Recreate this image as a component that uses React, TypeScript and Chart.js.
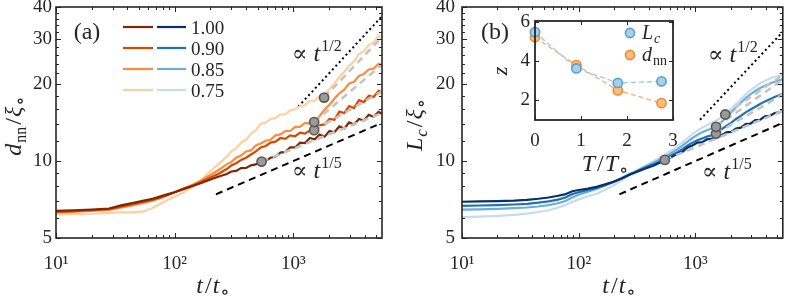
import React, { useEffect, useRef } from "react";
import { Chart, registerables } from "chart.js";

Chart.register(...registerables);

// ---------------- data ----------------
const times = [10, 14, 20, 28, 36, 45, 55, 65, 76, 88, 100, 120, 142, 168, 198, 233, 275,
  300, 330, 363, 400, 440, 484, 532, 585, 644, 708, 779, 857, 943, 1037, 1141, 1255, 1380,
  1518, 1670, 1837, 2021, 2223, 2445, 2690, 2959, 3255, 3580, 3938, 4332, 4765, 5242, 5600];

const seriesLabels = ["1.00", "0.90", "0.85", "0.75"];

// panel (a): d_nn / xi
const dnn100 = [6.38, 6.42, 6.46, 6.52, 6.72, 6.86, 7.0, 7.12, 7.27, 7.42, 7.55, 7.78, 7.98, 8.2, 8.45, 8.68, 8.9,
  9.1, 9.15, 9.38, 9.4, 9.62, 9.7, 9.92, 10.0, 10.3, 10.4, 10.78, 10.85, 11.3, 11.3, 11.8, 11.75, 12.3, 12.15, 12.7,
  12.45, 13.1, 12.95, 13.65, 13.4, 14.15, 13.9, 14.6, 14.4, 15.15, 14.9, 15.55, 15.3];
const dnn090 = [6.33, 6.37, 6.42, 6.48, 6.65, 6.8, 6.93, 7.05, 7.2, 7.38, 7.55, 7.8, 8.02, 8.3, 8.6, 8.9, 9.3,
  9.6, 9.8, 10.1, 10.3, 10.6, 10.9, 11.3, 11.45, 11.8, 11.9, 12.3, 12.2, 12.6, 12.5, 12.9, 12.8, 13.15, 13.2, 13.8,
  13.9, 14.6, 14.5, 15.6, 15.4, 16.4, 16.1, 17.3, 17.0, 18.0, 17.8, 18.8, 18.6];
const dnn085 = [6.3, 6.33, 6.38, 6.44, 6.58, 6.72, 6.86, 7.0, 7.15, 7.35, 7.55, 7.82, 8.08, 8.4, 8.8, 9.2, 9.7,
  9.9, 10.3, 10.5, 10.9, 11.0, 11.5, 11.7, 12.0, 12.1, 12.6, 12.7, 13.1, 13.1, 13.6, 13.6, 14.1, 14.0, 14.3, 15.0,
  15.9, 16.6, 17.5, 18.4, 19.0, 20.1, 20.4, 21.5, 21.9, 22.8, 23.0, 24.0, 23.7];
const dnn075 = [6.2, 6.2, 6.22, 6.27, 6.3, 6.3, 6.35, 6.55, 6.8, 7.05, 7.25, 7.55, 7.95, 8.45, 9.1, 9.7, 10.4,
  10.9, 11.2, 11.8, 12.1, 12.8, 13.2, 14.0, 14.1, 14.6, 14.7, 15.2, 15.2, 15.8, 15.9, 16.4, 16.5, 17.2, 17.2, 17.9,
  18.2, 19.1, 20.1, 21.3, 22.3, 23.6, 24.5, 26.2, 26.9, 28.4, 29.0, 30.9, 30.4];

// panel (b): L_c / xi
const lc100 = [6.93, 6.95, 6.97, 7.0, 7.05, 7.12, 7.2, 7.3, 7.4, 7.62, 7.7, 7.8, 7.92, 8.1, 8.3, 8.55, 8.85,
  9.0, 9.15, 9.3, 9.45, 9.6, 9.8, 10.0, 10.2, 10.45, 10.7, 10.9, 11.3, 11.5, 11.8, 11.85, 12.15, 12.2, 12.5, 12.6,
  12.95, 13.0, 13.4, 13.5, 13.95, 14.0, 14.45, 14.5, 14.95, 15.0, 15.4, 15.5, 15.75];
const lc090 = [6.68, 6.7, 6.72, 6.76, 6.8, 6.87, 6.95, 7.05, 7.18, 7.42, 7.55, 7.7, 7.85, 8.05, 8.28, 8.55, 8.88,
  9.0, 9.2, 9.38, 9.55, 9.72, 9.92, 10.12, 10.35, 10.6, 10.85, 11.15, 11.5, 11.8, 12.05, 12.25, 12.45, 12.6, 12.85, 13.3,
  13.7, 14.1, 14.6, 15.0, 15.5, 15.9, 16.3, 16.7, 17.1, 17.45, 17.8, 18.1, 18.25];
const lc085 = [6.45, 6.47, 6.5, 6.54, 6.58, 6.64, 6.72, 6.82, 6.96, 7.2, 7.38, 7.58, 7.78, 8.02, 8.28, 8.58, 8.92,
  9.05, 9.25, 9.45, 9.65, 9.85, 10.08, 10.3, 10.55, 10.85, 11.15, 11.5, 11.9, 12.3, 12.65, 12.95, 13.2, 13.4, 13.65, 14.2,
  14.8, 15.5, 16.2, 16.9, 17.6, 18.2, 18.8, 19.3, 19.7, 20.1, 20.4, 20.7, 20.9];
const lc075 = [6.03, 6.06, 6.1, 6.16, 6.23, 6.32, 6.42, 6.55, 6.72, 6.92, 7.08, 7.28, 7.45, 7.72, 8.02, 8.4, 8.85,
  9.08, 9.3, 9.52, 9.75, 10.0, 10.25, 10.5, 10.8, 11.1, 11.45, 11.85, 12.3, 12.75, 13.15, 13.5, 13.8, 14.1, 14.4, 14.8,
  15.25, 16.0, 16.7, 17.4, 18.2, 18.9, 19.5, 20.1, 20.6, 21.0, 21.35, 21.6, 21.8];

// power-law fits (start marker -> end of range)
const fitEndT = 5600;
const fitStartTA = [541, 1500, 1500, 1820];
const fitStartVA = [9.95, 13.2, 14.2, 17.7];
const fitEndVA = [15.4, 18.7, 23.8, 30.5];
const fitStartTB = [547, 1500, 1500, 1800];
const fitStartVB = [10.1, 12.8, 13.6, 15.2];
const fitEndVB = [15.7, 18.2, 20.8, 21.7];

// reference power laws
const slowRefT = [223, 5600];
const slowRefV = [7.41, 14.1];
const fastRefTA = [1100, 5600];
const fastRefVA = [16.3, 36.8];
const fastRefTB = [1094, 5600];
const fastRefVB = [14.5, 32.0];

// inset: exponent z vs T/T0
const insetT = [0, 0.9, 1.8, 2.75];
const zLc = [5.48, 3.63, 2.89, 2.97];
const zDnn = [5.22, 3.8, 2.51, 1.86];

// ticks
const xTickValues = [10, 100, 1000];
const xTickLabels = ["10¹", "10²", "10³"];
const xMinorTicks = [20, 30, 40, 50, 60, 70, 80, 90, 200, 300, 400, 500, 600, 700, 800, 900, 2000, 3000, 4000, 5000];
const yTickValues = [5, 10, 20, 30, 40];
const yTickLabels = ["5", "10", "20", "30", "40"];
const yMinorTicks = [6, 7, 8, 9, 12, 14, 16, 18, 22, 24, 26, 28, 32, 34, 36, 38];
const insetXTicks = [0, 1, 2, 3];
const insetYTicks = [2, 4, 6];

// ---------------- styling ----------------
const FONT = "'Liberation Serif', 'DejaVu Serif', serif";
const INK = "#262626";
const orangeColors = ["#7f2704", "#d94801", "#fd8d3c", "#fdd0a2"];
const blueColors = ["#08306b", "#2171b5", "#6baed6", "#c6dbef"];

type Seg = { t: string; s: number; i?: boolean; dy?: number; gap?: number };

function fontOf(sg: Seg) {
  return `${sg.i ? "italic " : ""}${sg.s}px ${FONT}`;
}

function drawRich(ctx: CanvasRenderingContext2D, x: number, y: number, segs: Seg[], align: "left" | "center" = "left", rot = 0) {
  ctx.save();
  ctx.translate(x, y);
  if (rot) ctx.rotate(rot);
  ctx.fillStyle = INK;
  ctx.textBaseline = "alphabetic";
  ctx.textAlign = "left";
  let total = 0;
  const ws = segs.map((sg) => {
    ctx.font = fontOf(sg);
    const w = ctx.measureText(sg.t).width + (sg.gap || 0);
    total += w;
    return w;
  });
  let cx = align === "center" ? -total / 2 : 0;
  segs.forEach((sg, i) => {
    ctx.font = fontOf(sg);
    ctx.fillText(sg.t, cx, sg.dy || 0);
    cx += ws[i];
  });
  ctx.restore();
}

function drawFrame(chart: any, xMajor: number[], xMinor: number[], yMajor: number[], yMinor: number[], lw: number, majLen: number, minLen: number) {
  const { ctx, chartArea: a, scales } = chart;
  ctx.save();
  ctx.strokeStyle = INK;
  ctx.lineWidth = 1;
  ctx.beginPath();
  const xs = [...xMajor.map((v) => [v, majLen]), ...xMinor.map((v) => [v, minLen])];
  xs.forEach(([v, len]) => {
    const px = Math.round(scales.x.getPixelForValue(v)) + 0.5;
    ctx.moveTo(px, a.bottom); ctx.lineTo(px, a.bottom - len);
    ctx.moveTo(px, a.top); ctx.lineTo(px, a.top + len);
  });
  const ys = [...yMajor.map((v) => [v, majLen]), ...yMinor.map((v) => [v, minLen])];
  ys.forEach(([v, len]) => {
    const py = Math.round(scales.y.getPixelForValue(v)) + 0.5;
    ctx.moveTo(a.left, py); ctx.lineTo(a.left + len, py);
    ctx.moveTo(a.right, py); ctx.lineTo(a.right - len, py);
  });
  ctx.stroke();
  ctx.lineWidth = lw;
  ctx.strokeRect(a.left, a.top, a.right - a.left, a.bottom - a.top);
  ctx.restore();
}

const propto = (sup: string): Seg[] => [
  { t: "∝", s: 23, gap: 6 },
  { t: "t", s: 24, i: true, gap: 1 },
  { t: sup, s: 16, dy: -10 },
];

const timeTitle = (sym: string): Seg[] => [
  { t: sym, s: 24, i: true, gap: 2 },
  { t: "/", s: 24, gap: 1 },
  { t: sym, s: 24, i: true, gap: 1 },
  { t: "∘", s: 19, dy: 5 },
];

function mainConfig(p: {
  curves: number[][]; colors: string[]; fitT: number[]; fitV: number[]; fitEndV: number[];
  fastT: number[]; fastV: number[]; yWidth: number; yPad: number; padRight: number;
  decor: (ctx: CanvasRenderingContext2D) => void;
}): any {
  const datasets: any[] = [];
  datasets.push({
    type: "scatter",
    data: p.fitT.map((t, i) => ({ x: t, y: p.fitV[i] })),
    pointRadius: 4.6, pointBackgroundColor: "#9a9a9a", pointBorderColor: "#5a5a5a", pointBorderWidth: 1.6,
    order: 0, clip: false,
  });
  p.fitT.forEach((t, i) => {
    datasets.push({
      type: "line",
      data: [{ x: t, y: p.fitV[i] }, { x: fitEndT, y: p.fitEndV[i] }],
      borderColor: "#c4c4c4", borderWidth: 2.6, borderDash: [7, 5], pointRadius: 0, order: 1,
    });
  });
  p.curves.forEach((vals, k) => {
    datasets.push({
      type: "line",
      data: times.map((t, i) => ({ x: t, y: vals[i] })),
      borderColor: p.colors[k], borderWidth: 2.2, pointRadius: 0, tension: 0, order: 2 + k,
    });
  });
  datasets.push({
    type: "line",
    data: slowRefT.map((t, i) => ({ x: t, y: slowRefV[i] })),
    borderColor: "#000", borderWidth: 2, borderDash: [7, 5], pointRadius: 0, order: 10,
  });
  datasets.push({
    type: "line",
    data: p.fastT.map((t, i) => ({ x: t, y: p.fastV[i] })),
    borderColor: "#000", borderWidth: 2, borderDash: [2, 3], pointRadius: 0, order: 10,
  });

  const tickFont = { family: FONT, size: 19 };
  return {
    type: "line",
    data: { datasets },
    options: {
      animation: false,
      responsive: false,
      devicePixelRatio: 1,
      events: [],
      layout: { padding: { left: 0, right: p.padRight, top: 7, bottom: 0 } },
      plugins: { legend: { display: false }, tooltip: { enabled: false } },
      scales: {
        x: {
          type: "logarithmic", min: 10, max: 5600,
          grid: { display: false, drawTicks: false }, border: { display: false },
          afterBuildTicks: (s: any) => { s.ticks = xTickValues.map((v) => ({ value: v })); },
          afterFit: (s: any) => { s.height = 62; s.paddingLeft = 0; s.paddingRight = 0; },
          ticks: { autoSkip: false, maxRotation: 0, minRotation: 0, padding: 15, color: INK, font: tickFont,
            callback: (_v: any, i: number) => xTickLabels[i] },
        },
        y: {
          type: "logarithmic", min: 5, max: 40,
          grid: { display: false, drawTicks: false }, border: { display: false },
          afterBuildTicks: (s: any) => { s.ticks = yTickValues.map((v) => ({ value: v })); },
          afterFit: (s: any) => { s.width = p.yWidth; s.paddingTop = 0; s.paddingBottom = 0; },
          ticks: { autoSkip: false, padding: p.yPad, color: INK, font: tickFont,
            callback: (_v: any, i: number) => yTickLabels[i] },
        },
      },
    },
    plugins: [{
      id: "decor",
      afterDraw(chart: any) {
        drawFrame(chart, xTickValues, xMinorTicks, yTickValues, yMinorTicks, 1.6, 5, 3);
        p.decor(chart.ctx);
      },
    }],
  };
}

function configA() {
  return mainConfig({
    curves: [dnn100, dnn090, dnn085, dnn075], colors: orangeColors,
    fitT: fitStartTA, fitV: fitStartVA, fitEndV: fitEndVA,
    fastT: fastRefTA, fastV: fastRefVA, yWidth: 56, yPad: 4, padRight: 12,
    decor: (ctx) => {
      drawRich(ctx, 87, 39, [{ t: "(a)", s: 24 }], "center");
      const rows = [27, 48, 69, 90];
      rows.forEach((ry, k) => {
        ctx.save();
        ctx.lineWidth = 2.2;
        ctx.strokeStyle = orangeColors[k];
        ctx.beginPath(); ctx.moveTo(123, ry); ctx.lineTo(153, ry); ctx.stroke();
        ctx.strokeStyle = blueColors[k];
        ctx.beginPath(); ctx.moveTo(157, ry); ctx.lineTo(186, ry); ctx.stroke();
        ctx.restore();
        drawRich(ctx, 191, ry + 7, [{ t: seriesLabels[k], s: 19 }]);
      });
      drawRich(ctx, 292, 61, propto("1/2"));
      drawRich(ctx, 292, 178, propto("1/5"));
      drawRich(ctx, 21, 126, [
        { t: "d", s: 24, i: true, gap: 1 },
        { t: "nn", s: 16, dy: 5, gap: 2 },
        { t: "/", s: 24, gap: 1 },
        { t: "ξ", s: 24, i: true, gap: 1 },
        { t: "∘", s: 19, dy: 5 },
      ], "center", -Math.PI / 2);
      drawRich(ctx, 213, 293, timeTitle("t"), "center");
    },
  });
}

function configB() {
  return mainConfig({
    curves: [lc100, lc090, lc085, lc075], colors: blueColors,
    fitT: fitStartTB, fitV: fitStartVB, fitEndV: fitEndVB,
    fastT: fastRefTB, fastV: fastRefVB, yWidth: 68, yPad: 7, padRight: 2,
    decor: (ctx) => {
      drawRich(ctx, 101, 39, [{ t: "(b)", s: 24 }], "center");
      drawRich(ctx, 314, 62, propto("1/2"));
      drawRich(ctx, 308, 179, propto("1/5"));
      drawRich(ctx, 28, 125, [
        { t: "L", s: 24, i: true, gap: 1 },
        { t: "c", s: 17, i: true, dy: 5, gap: 2 },
        { t: "/", s: 24, gap: 1 },
        { t: "ξ", s: 24, i: true, gap: 1 },
        { t: "∘", s: 19, dy: 5 },
      ], "center", -Math.PI / 2);
      drawRich(ctx, 225, 293, timeTitle("t"), "center");
    },
  });
}

const lcPoint = { fill: "#a6cfe9", edge: "#5a9fd0", line: "#9ecae1" };
const dnnPoint = { fill: "#fdbd7c", edge: "#f28a30", line: "#fdae6b" };

function configInset(): any {
  const tickFont = { family: FONT, size: 19 };
  return {
    type: "line",
    data: {
      datasets: [
        {
          data: insetT.map((t, i) => ({ x: t, y: zLc[i] })),
          borderColor: lcPoint.line, borderWidth: 1.3, borderDash: [5, 3],
          pointRadius: 4.6, pointBackgroundColor: lcPoint.fill, pointBorderColor: lcPoint.edge, pointBorderWidth: 1.6,
          order: 0, clip: false,
        },
        {
          data: insetT.map((t, i) => ({ x: t, y: zDnn[i] })),
          borderColor: dnnPoint.line, borderWidth: 1.3, borderDash: [5, 3],
          pointRadius: 4.6, pointBackgroundColor: dnnPoint.fill, pointBorderColor: dnnPoint.edge, pointBorderWidth: 1.6,
          order: 1, clip: false,
        },
      ],
    },
    options: {
      animation: false,
      responsive: false,
      devicePixelRatio: 1,
      events: [],
      layout: { padding: { left: 0, right: 17, top: 21, bottom: 0 } },
      plugins: { legend: { display: false }, tooltip: { enabled: false } },
      scales: {
        x: {
          type: "linear", min: 0, max: 3,
          grid: { display: false, drawTicks: false }, border: { display: false },
          afterBuildTicks: (s: any) => { s.ticks = insetXTicks.map((v) => ({ value: v })); },
          afterFit: (s: any) => { s.height = 60; s.paddingLeft = 0; s.paddingRight = 0; },
          ticks: { autoSkip: false, maxRotation: 0, padding: 10, color: INK, font: tickFont,
            callback: (_v: any, i: number) => String(insetXTicks[i]) },
        },
        y: {
          type: "linear", min: 1, max: 6.05,
          grid: { display: false, drawTicks: false }, border: { display: false },
          afterBuildTicks: (s: any) => { s.ticks = insetYTicks.map((v) => ({ value: v })); },
          afterFit: (s: any) => { s.width = 55; s.paddingTop = 0; s.paddingBottom = 0; },
          ticks: { autoSkip: false, padding: 5, color: INK, font: tickFont,
            callback: (_v: any, i: number) => String(insetYTicks[i]) },
        },
      },
    },
    plugins: [{
      id: "insetDecor",
      beforeDraw(chart: any) {
        const { ctx, chartArea: a } = chart;
        ctx.save();
        ctx.fillStyle = "#ffffff";
        ctx.fillRect(a.left, a.top, a.right - a.left, a.bottom - a.top);
        ctx.restore();
      },
      afterDraw(chart: any) {
        const ctx = chart.ctx as CanvasRenderingContext2D;
        drawFrame(chart, insetXTicks, [], insetYTicks, [], 1.8, 4, 2);
        const marks = [
          { y: 33, c: lcPoint, segs: [{ t: "L", s: 20, i: true, gap: 1 }, { t: "c", s: 14, i: true, dy: 4 }] as Seg[] },
          { y: 55, c: dnnPoint, segs: [{ t: "d", s: 20, i: true, gap: 1 }, { t: "nn", s: 14, dy: 4 }] as Seg[] },
        ];
        marks.forEach((m) => {
          ctx.save();
          ctx.beginPath();
          ctx.arc(150, m.y, 4.6, 0, Math.PI * 2);
          ctx.fillStyle = m.c.fill;
          ctx.fill();
          ctx.lineWidth = 1.6;
          ctx.strokeStyle = m.c.edge;
          ctx.stroke();
          ctx.restore();
          drawRich(ctx, 162, m.y + 6, m.segs);
        });
        drawRich(ctx, 27, 71, [{ t: "z", s: 22, i: true }], "center", -Math.PI / 2);
        drawRich(ctx, 125, 171, timeTitle("T"), "center");
      },
    }],
  };
}

export default function App() {
  const aRef = useRef<HTMLCanvasElement | null>(null);
  const bRef = useRef<HTMLCanvasElement | null>(null);
  const iRef = useRef<HTMLCanvasElement | null>(null);

  useEffect(() => {
    const charts = [
      new Chart(aRef.current as HTMLCanvasElement, configA()),
      new Chart(bRef.current as HTMLCanvasElement, configB()),
      new Chart(iRef.current as HTMLCanvasElement, configInset()),
    ];
    return () => charts.forEach((c) => c.destroy());
  }, []);

  return (
    <div style={{ position: "absolute", left: 0, top: 0, width: 789, height: 300, background: "#ffffff", overflow: "hidden" }}>
      <canvas ref={aRef} width={394} height={300} style={{ position: "absolute", left: 0, top: 0 }} />
      <canvas ref={bRef} width={395} height={300} style={{ position: "absolute", left: 394, top: 0 }} />
      <canvas ref={iRef} width={210} height={180} style={{ position: "absolute", left: 480, top: 0 }} />
    </div>
  );
}
